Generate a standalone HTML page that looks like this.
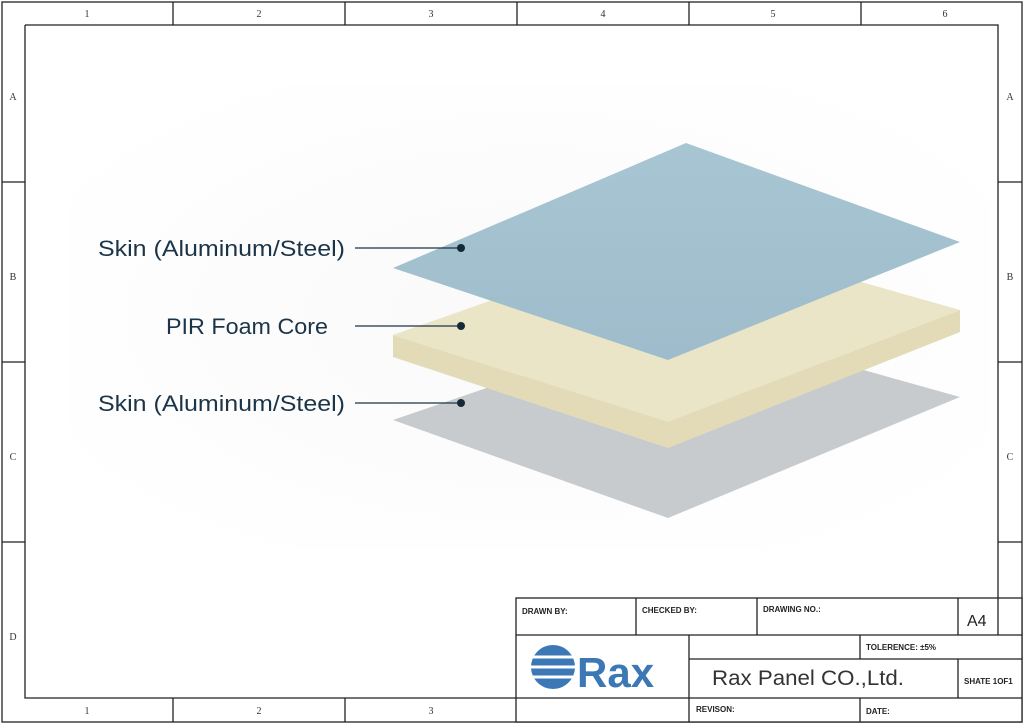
<!DOCTYPE html>
<html><head><meta charset="utf-8"><style>
body{margin:0;background:#fff;}
svg{display:block;font-family:"Liberation Sans",sans-serif;}
</style></head><body>
<svg width="1024" height="725" viewBox="0 0 1024 725" xmlns="http://www.w3.org/2000/svg">
<defs>
<radialGradient id="bg" cx="50%" cy="50%" r="60%"><stop offset="0" stop-color="#f9f9f9"/><stop offset="1" stop-color="#ffffff"/></radialGradient>
<linearGradient id="sky" x1="0" y1="0" x2="0" y2="1"><stop offset="0" stop-color="#a8c5d3"/><stop offset="1" stop-color="#9ebccb"/></linearGradient>
</defs>
<rect x="0" y="0" width="1024" height="725" fill="#fff"/>
<rect x="70" y="85" width="920" height="465" fill="url(#bg)"/>
<g fill="none" stroke="#222" stroke-width="1.3">
<rect x="2" y="2" width="1020" height="720"/>
<path d="M25 25H998V635M25 25V698H516"/>
<path d="M173 2V25M345 2V25M517 2V25M689 2V25M861 2V25M173 698V722M345 698V722M2 182H25M2 362H25M2 542H25M998 182H1022M998 362H1022M998 542H1022"/>
</g>
<g font-family="Liberation Serif,serif" font-size="10" fill="#333" text-anchor="middle">
<text x="87" y="17">1</text><text x="259" y="17">2</text><text x="431" y="17">3</text><text x="603" y="17">4</text><text x="773" y="17">5</text><text x="945" y="17">6</text>
<text x="87" y="714">1</text><text x="259" y="714">2</text><text x="431" y="714">3</text>
<text x="13" y="100">A</text><text x="13" y="280">B</text><text x="13" y="460">C</text><text x="13" y="640">D</text>
<text x="1010" y="100">A</text><text x="1010" y="280">B</text><text x="1010" y="460">C</text>
</g>
<polygon points="393,420 685,320 960,397 668,518" fill="#c7cbce"/>
<polygon points="393,335 393,357 668,448 960,332 960,310 668,422" fill="#e3dbb8"/>
<polygon points="393,335 685,232 960,310 668,422" fill="#ebe5c8"/>
<polygon points="393,268 686,143 960,242 668,360" fill="url(#sky)"/>
<g stroke="#1e3344" stroke-width="1.3"><path d="M355 248H461M355 326H461M355 403H461"/></g>
<g fill="#14293a"><circle cx="461" cy="248" r="4"/><circle cx="461" cy="326" r="4"/><circle cx="461" cy="403" r="4"/></g>
<g font-size="22" fill="#1c3447">
<text x="98" y="256" textLength="247" lengthAdjust="spacingAndGlyphs">Skin (Aluminum/Steel)</text>
<text x="166" y="334" textLength="162" lengthAdjust="spacingAndGlyphs">PIR Foam Core</text>
<text x="98" y="411" textLength="247" lengthAdjust="spacingAndGlyphs">Skin (Aluminum/Steel)</text>
</g>
<rect x="516" y="598" width="506" height="124" fill="#fff"/>
<g fill="none" stroke="#222" stroke-width="1.3">
<rect x="516" y="598" width="506" height="124"/>
<path d="M516 635H1022M689 659H1022M516 698H1022M636 598V635M757 598V635M958 598V635M998 598V635M689 635V722M860 635V659M958 659V698M860 698V722"/>
</g>
<g font-size="8" font-weight="bold" fill="#222">
<text x="522" y="614">DRAWN BY:</text>
<text x="642" y="613">CHECKED BY:</text>
<text x="763" y="612">DRAWING NO.:</text>
<text x="866" y="650">TOLERENCE:  ±5%</text>
<text x="964" y="684">SHATE 1OF1</text>
<text x="696" y="712">REVISON:</text>
<text x="866" y="714">DATE:</text>
</g>
<text x="967" y="626" font-size="16" fill="#222">A4</text>
<text x="712" y="685" font-size="21" fill="#333" textLength="192" lengthAdjust="spacingAndGlyphs">Rax Panel CO.,Ltd.</text>
<g fill="#3b78b5">
<circle cx="553" cy="667" r="22"/>
<text x="577" y="687" font-size="42" font-weight="bold">Rax</text>
</g>
<g stroke="#fff" stroke-width="3"><path d="M530 657H576M530 667H576M530 677H576"/></g>
</svg>
</body></html>
